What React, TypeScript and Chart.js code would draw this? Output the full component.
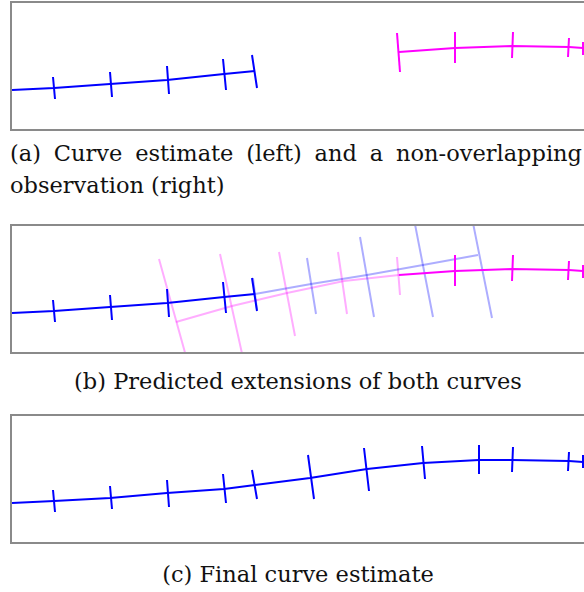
import React, { useEffect, useRef } from "react";
import { Chart, registerables } from "chart.js";

Chart.register(...registerables);

// ---- Panel geometry (data units span the inner frame) ----
const X_MAX = 596;
const Y_MAX = 126;

// ---- Curve estimate (left) : panels a & b ----
const curveX = [0, 42, 98, 155, 212, 243];
const curveY = [87, 85, 81, 77, 71, 68];
const curveTickX1 = [41, 98, 155, 211, 240];
const curveTickY1 = [74, 69, 63, 56, 52];
const curveTickX2 = [43, 100, 157, 214, 245];
const curveTickY2 = [96, 94, 91, 87, 85];

// ---- Non-overlapping observation (right) ----
const obsX = [387, 443, 500, 557, 571, 586];
const obsY = [49, 45, 43, 44, 45, 45];
const obsStartTickX = [385, 388];
const obsStartTickY = [30, 69];
const obsTickX1 = [443, 501, 557, 571];
const obsTickY1 = [29, 29, 35, 39];
const obsTickX2 = [443, 500, 556, 571];
const obsTickY2 = [60, 55, 54, 52];

// ---- Predicted extension of the curve (panel b, light blue) ----
const extCurveX = [243, 299, 355, 411, 466];
const extCurveY = [68, 58, 49, 39, 29];
const extCurveTickX1 = [241, 295, 348, 401, 455];
const extCurveTickY1 = [52, 32, 11, -12, -33];
const extCurveTickX2 = [245, 304, 362, 421, 480];
const extCurveTickY2 = [84, 88, 91, 91, 92];

// ---- Predicted backward extension of the observation (panel b, light pink) ----
const extObsX = [164, 220, 275, 332, 387];
const extObsY = [96, 80, 67, 55, 49];
const extObsTickX1 = [147, 208, 267, 326, 385];
const extObsTickY1 = [33, 28, 26, 26, 31];
const extObsTickX2 = [182, 231, 283, 335, 388];
const extObsTickY2 = [159, 132, 110, 88, 69];

// ---- Final curve estimate (panel c) ----
const finalX = [0, 42, 98, 155, 212, 243, 298, 355, 411, 467, 500, 557, 571, 586];
const finalY = [87, 85, 82, 77, 73, 69, 62, 53, 47, 44, 44, 45, 46, 46];
const finalTickX1 = [41, 98, 155, 211, 240, 296, 352, 410, 467, 501, 557, 571];
const finalTickY1 = [74, 70, 64, 58, 54, 39, 32, 30, 29, 31, 36, 39];
const finalTickX2 = [43, 100, 157, 214, 245, 302, 357, 413, 467, 500, 556, 571];
const finalTickY2 = [96, 93, 91, 87, 83, 83, 75, 63, 58, 56, 55, 52];

const BLUE = "#0000ff";
const MAGENTA = "#ff00ff";
const LIGHT_BLUE = "rgba(0,0,255,0.32)";
const LIGHT_PINK = "rgba(255,0,255,0.32)";

type Pt = { x: number; y: number | null };

function polyline(xs: number[], ys: number[]): Pt[] {
  return xs.map((x, i) => ({ x, y: ys[i] }));
}

function segments(x1: number[], y1: number[], x2: number[], y2: number[]): Pt[] {
  const out: Pt[] = [];
  x1.forEach((x, i) => {
    out.push({ x, y: y1[i] });
    out.push({ x: x2[i], y: y2[i] });
    out.push({ x: x2[i], y: null });
  });
  return out;
}

function ds(data: Pt[], color: string, width = 2) {
  return {
    data,
    borderColor: color,
    backgroundColor: color,
    borderWidth: width,
    pointRadius: 0,
    tension: 0,
    fill: false,
    spanGaps: false,
  };
}

function Panel({ top, datasets }: { top: number; datasets: any[] }) {
  const ref = useRef<HTMLCanvasElement | null>(null);
  useEffect(() => {
    if (!ref.current) return;
    const chart = new Chart(ref.current, {
      type: "line",
      data: { datasets },
      options: {
        responsive: false,
        maintainAspectRatio: false,
        animation: false,
        events: [],
        layout: { padding: 0 },
        plugins: { legend: { display: false }, tooltip: { enabled: false } },
        scales: {
          x: { type: "linear", min: 0, max: X_MAX, display: false },
          y: { type: "linear", min: 0, max: Y_MAX, reverse: true, display: false },
        },
      },
    });
    return () => chart.destroy();
  }, []);
  return (
    <div
      style={{
        position: "absolute",
        left: 10,
        top,
        width: X_MAX + 4,
        height: Y_MAX + 4,
        border: "2px solid #8a8a8a",
        boxSizing: "border-box",
        background: "#fff",
      }}
    >
      <canvas
        ref={ref}
        width={X_MAX}
        height={Y_MAX}
        style={{ display: "block", width: X_MAX, height: Y_MAX }}
      />
    </div>
  );
}

const captionStyle: React.CSSProperties = {
  position: "absolute",
  fontFamily: "'DejaVu Serif', serif",
  fontSize: 22.5,
  lineHeight: "32px",
  color: "#111",
  margin: 0,
};

export default function App() {
  useEffect(() => {
    document.body.style.margin = "0";
    document.body.style.overflow = "hidden";
  }, []);

  const panelA = [
    ds(segments(curveTickX1, curveTickY1, curveTickX2, curveTickY2), BLUE),
    ds(polyline(curveX, curveY), BLUE),
    ds(segments(obsTickX1, obsTickY1, obsTickX2, obsTickY2), MAGENTA),
    ds(segments([obsStartTickX[0]], [obsStartTickY[0]], [obsStartTickX[1]], [obsStartTickY[1]]), MAGENTA),
    ds(polyline(obsX, obsY), MAGENTA),
  ];

  const panelB = [
    ds(segments(curveTickX1, curveTickY1, curveTickX2, curveTickY2), BLUE),
    ds(polyline(curveX, curveY), BLUE),
    ds(segments(obsTickX1, obsTickY1, obsTickX2, obsTickY2), MAGENTA),
    ds(polyline(obsX, obsY), MAGENTA),
    ds(segments(extCurveTickX1, extCurveTickY1, extCurveTickX2, extCurveTickY2), LIGHT_BLUE),
    ds(polyline(extCurveX, extCurveY), LIGHT_BLUE),
    ds(segments(extObsTickX1, extObsTickY1, extObsTickX2, extObsTickY2), LIGHT_PINK),
    ds(polyline(extObsX, extObsY), LIGHT_PINK),
  ];

  const panelC = [
    ds(segments(finalTickX1, finalTickY1, finalTickX2, finalTickY2), BLUE),
    ds(polyline(finalX, finalY), BLUE),
  ];

  return (
    <div style={{ position: "relative", width: 584, height: 592, overflow: "hidden", background: "#fff" }}>
      <Panel top={1} datasets={panelA} />
      <div style={{ ...captionStyle, left: 10, top: 137, width: 572, textAlign: "justify" }}>
        (a) Curve estimate (left) and a non-overlapping observation (right)
      </div>
      <Panel top={224} datasets={panelB} />
      <div style={{ ...captionStyle, left: 10, top: 365, width: 576, textAlign: "center" }}>
        (b) Predicted extensions of both curves
      </div>
      <Panel top={414} datasets={panelC} />
      <div style={{ ...captionStyle, left: 10, top: 558, width: 576, textAlign: "center" }}>
        (c) Final curve estimate
      </div>
    </div>
  );
}
